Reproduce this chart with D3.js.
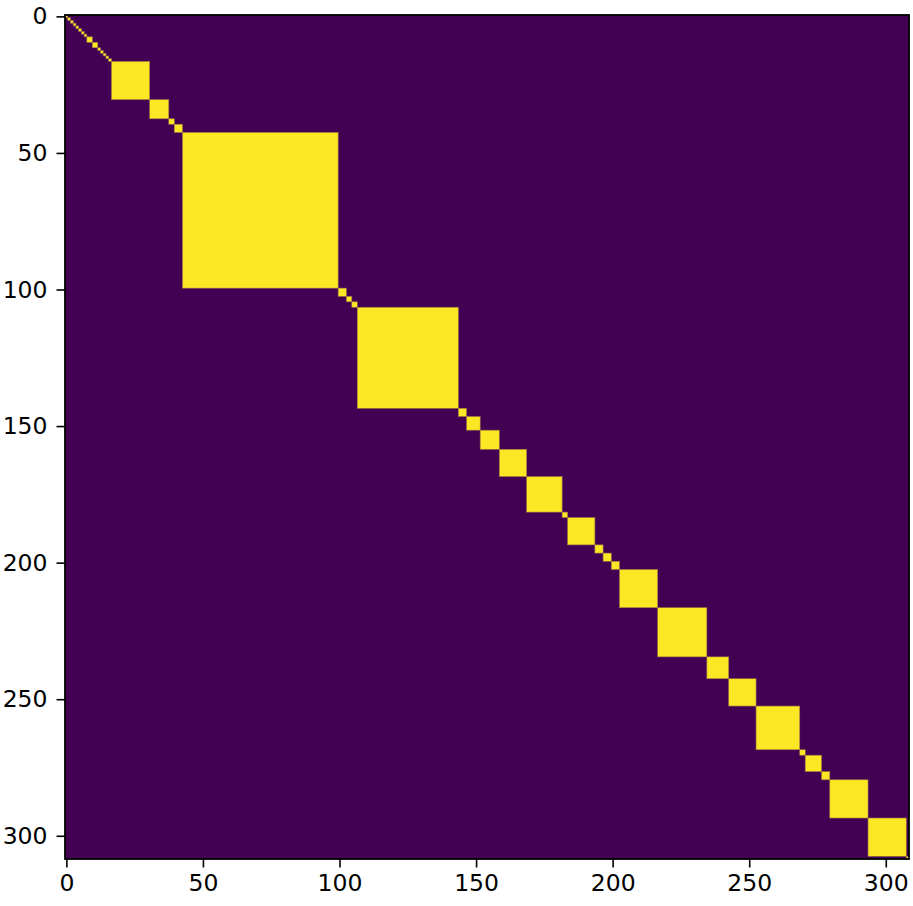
<!DOCTYPE html>
<html>
    <head>
        <meta charset="utf-8">
        <title>Block diagonal matrix</title>
        <script type="text/javascript" src="https://cdn.jsdelivr.net/npm/d3@7"></script>
        <style>
            body { margin: 0; background: #fff; }
            .tick text { font-family: "DejaVu Sans", sans-serif; font-size: 23.5px; fill: #000; }
        </style>
    </head>
    <body>
        <script type="text/javascript">
            // sizes of the diagonal blocks (cells of value 1), in order
            let blockSizes = [1, 1, 1, 1, 1, 1, 1, 1, 2, 2, 1, 1, 1, 1, 1,
                14, 7, 2, 3, 57, 3, 2, 2, 37, 3, 5, 7, 10, 13, 2, 10, 3, 3, 3,
                14, 18, 8, 10, 16, 2, 6, 3, 14, 14, 1];
            let tickValues = [0, 50, 100, 150, 200, 250, 300];
            let n = d3.sum(blockSizes);

            let margin = {top: 15, left: 65};
            let size = 844;
            let width = 913;
            let height = 906;

            let svg = d3.select('body')
                .append('svg')
                .attr('width', width)
                .attr('height', height);

            let g = svg.append('g')
                .attr('transform', `translate(${margin.left},${margin.top})`);

            let x = d3.scaleLinear().domain([-0.5, n - 0.5]).range([0, size]);
            let y = d3.scaleLinear().domain([-0.5, n - 0.5]).range([0, size]);

            let blocks = [];
            let start = 0;
            blockSizes.forEach(s => {
                blocks.push({start: start, size: s});
                start += s;
            });

            g.append('rect')
                .attr('width', size)
                .attr('height', size)
                .attr('fill', '#440154');

            g.selectAll('rect.block')
                .data(blocks)
                .enter()
                .append('rect')
                    .attr('class', 'block')
                    .attr('x', d => x(d.start - 0.5))
                    .attr('y', d => y(d.start - 0.5))
                    .attr('width', d => x(d.start + d.size - 0.5) - x(d.start - 0.5))
                    .attr('height', d => y(d.start + d.size - 0.5) - y(d.start - 0.5))
                    .attr('fill', '#fde725')
                    .attr('stroke', '#9a7a45')
                    .attr('stroke-width', 0.6);

            let xAxis = g.append('g')
                .attr('transform', `translate(0,${size})`)
                .call(d3.axisBottom(x).tickValues(tickValues).tickSize(8.5).tickPadding(7).tickSizeOuter(0));
            let yAxis = g.append('g')
                .call(d3.axisLeft(y).tickValues(tickValues).tickSize(8.5).tickPadding(9).tickSizeOuter(0));

            [xAxis, yAxis].forEach(a => {
                a.select('.domain').remove();
                a.selectAll('.tick line').attr('stroke', '#000').attr('stroke-width', 1.6);
            });

            g.append('rect')
                .attr('width', size)
                .attr('height', size)
                .attr('fill', 'none')
                .attr('stroke', '#000')
                .attr('stroke-width', 1.8);
        </script>
    </body>
</html>
